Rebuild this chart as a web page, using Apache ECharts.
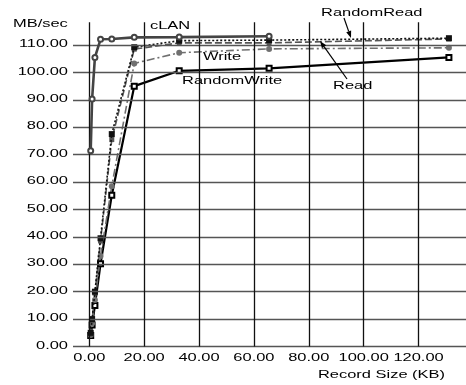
<!DOCTYPE html>
<html>
<head>
<meta charset="utf-8">
<script src="https://cdn.jsdelivr.net/npm/echarts@6/dist/echarts.min.js"></script>
<style>
html,body{margin:0;padding:0;background:#fff;}
#chart{width:466px;height:385px;}
</style>
</head>
<body>
<div id="chart"></div>
<script>
// Record sizes (KB)
const recordSizes = [0.512, 1.024, 2.048, 4.096, 8.192, 16.384, 32.768, 65.536, 131.072];
// Throughput (MB/sec)
const cLAN        = [71.4, 90.3, 105.5, 112.1, 112.2, 112.8, 112.9, 113.2];
const randomRead  = [5.0, 10.0, 20.0, 39.5, 77.5, 109.2, 111.6, 111.8, 112.5];
const read        = [4.5, 9.5, 19.5, 38.5, 75.5, 108.5, 110.8, 110.8, 112.2];
const write       = [4.2, 8.5, 17.0, 33.0, 58.5, 103.3, 107.2, 108.6, 109.0];
const randomWrite = [4.0, 7.8, 15.0, 30.2, 55.2, 95.0, 100.6, 101.5, 105.5];
// Tick labels
const xTicks = [0, 20, 40, 60, 80, 100, 120];
const yTicks = [0, 10, 20, 30, 40, 50, 60, 70, 80, 90, 100, 110];

function pairs(vals) { return vals.map((v, i) => [recordSizes[i], v]); }

const FONT = 'Liberation Sans, Arial, sans-serif';
const SX = 1.43;
const FS = 11.5;

const chart = echarts.init(document.getElementById('chart'), null, {renderer: 'canvas'});

const option = {
  animation: false,
  backgroundColor: '#fff',
  grid: {left: 73, right: 0, top: 22.3, bottom: 38.5, containLabel: false},
  xAxis: {
    type: 'value', min: -5.94, max: 137.3,
    axisLine: {show: false}, axisTick: {show: false}, axisLabel: {show: false}, splitLine: {show: false}
  },
  yAxis: {
    type: 'value', min: 0, max: 118.3,
    axisLine: {show: false}, axisTick: {show: false}, axisLabel: {show: false}, splitLine: {show: false}
  },
  series: [
    {
      name: 'gridlines', type: 'line', data: [], z: 1, silent: true,
      markLine: {
        silent: true, symbol: 'none', label: {show: false}, animation: false,
        data: [
          ...yTicks.map(v => ({yAxis: v, lineStyle: {color: '#555', width: 1.3, type: 'solid'}})),
          ...xTicks.map(v => ({xAxis: v, lineStyle: {color: '#111', width: 1.3, type: 'solid'}}))
        ]
      }
    },
    {
      name: 'RandomWrite', type: 'line', z: 3, data: pairs(randomWrite),
      symbol: 'emptyRect', symbolSize: 5,
      lineStyle: {color: '#000', width: 2.2},
      itemStyle: {color: '#000', borderWidth: 1}
    },
    {
      name: 'Write', type: 'line', z: 3, data: pairs(write),
      symbol: 'circle', symbolSize: 6,
      lineStyle: {color: '#707070', width: 1.6, type: [8, 3, 2, 3]},
      itemStyle: {color: '#707070'}
    },
    {
      name: 'Read', type: 'line', z: 3, data: pairs(read),
      symbol: 'rect', symbolSize: 5,
      lineStyle: {color: '#555', width: 1.6, type: [7, 3]},
      itemStyle: {color: '#555'}
    },
    {
      name: 'RandomRead', type: 'line', z: 4, data: pairs(randomRead),
      symbol: 'rect', symbolSize: 6,
      lineStyle: {color: '#111', width: 1.6, type: [2, 2]},
      itemStyle: {color: '#111'}
    },
    {
      name: 'cLAN', type: 'line', z: 5, data: pairs(cLAN),
      symbol: 'emptyCircle', symbolSize: 5,
      lineStyle: {color: '#444', width: 2.6},
      itemStyle: {color: '#444', borderWidth: 1.2}
    }
  ]
};
chart.setOption(option);

function txt(text, x, y, align) {
  return {
    type: 'text', x: x, y: y, scaleX: SX, z: 100, silent: true,
    style: {
      text: text, fontFamily: FONT, fontSize: FS, fill: '#000',
      textAlign: align, textVerticalAlign: 'middle', align: align, verticalAlign: 'middle'
    }
  };
}
function arrow(x1, y1, x2, y2) {
  const ang = Math.atan2(y2 - y1, x2 - x1);
  const L = 7, W = 2.6;
  const bx = x2 - L * Math.cos(ang), by = y2 - L * Math.sin(ang);
  const px = -Math.sin(ang) * W, py = Math.cos(ang) * W;
  return [
    {type: 'line', z: 100, silent: true, shape: {x1: x1, y1: y1, x2: bx, y2: by}, style: {stroke: '#000', lineWidth: 1.2}},
    {type: 'polygon', z: 100, silent: true, shape: {points: [[x2, y2], [bx + px, by + py], [bx - px, by - py]]}, style: {fill: '#000'}}
  ];
}

const g = [];
yTicks.forEach(v => {
  const py = chart.convertToPixel({yAxisIndex: 0}, v);
  g.push(txt(v.toFixed(2), 68, py - 1, 'right'));
});
xTicks.forEach(v => {
  const px = chart.convertToPixel({xAxisIndex: 0}, v);
  g.push(txt(v.toFixed(2), px, 358, 'center'));
});
g.push(txt('Record Size (KB)', 445, 375, 'right'));
g.push(txt('MB/sec', 13, 24, 'left'));
g.push(txt('cLAN', 150, 26, 'left'));
g.push(txt('RandomRead', 321, 13, 'left'));
g.push(txt('Write', 203, 57, 'left'));
g.push(txt('RandomWrite', 182, 81, 'left'));
g.push(txt('Read', 333, 86, 'left'));
g.push(...arrow(344, 18, 351, 38));
g.push(...arrow(347, 79, 320, 41));
chart.setOption({graphic: g});
</script>
</body>
</html>
